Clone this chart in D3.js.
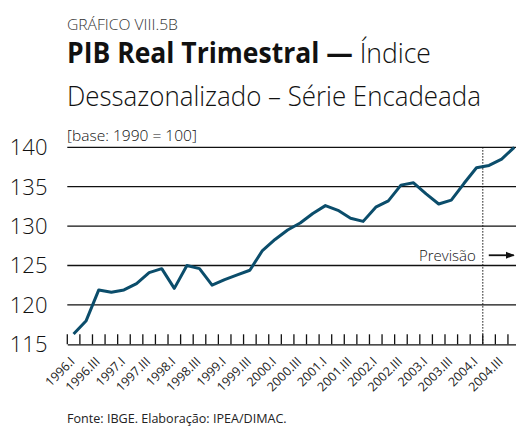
<!DOCTYPE html>
<html>
<head>
<meta charset="utf-8">
<script src="https://cdn.jsdelivr.net/npm/d3@7"></script>
<style>
  body { margin: 0; background: #fff; }
  svg { display: block; font-family: "Open Sans", "Noto Sans", sans-serif; }
  .grid line { stroke: #111; stroke-width: 1.3; }
  .title-txt { fill: #111; }
</style>
</head>
<body>
<svg id="chart"></svg>
<script>
//Data
const years = ["1996", "1997", "1998", "1999", "2000", "2001", "2002", "2003", "2004"]
const quarterNames = ["I", "II", "III", "IV"]
const quarters = years.flatMap(y => quarterNames.map(q => `${y}.${q}`))
const pib = [116.3, 118.0, 121.9, 121.6, 121.9, 122.7, 124.1, 124.6,
  122.1, 125.0, 124.6, 122.5, 123.2, 123.8, 124.4, 126.9,
  128.3, 129.5, 130.4, 131.6, 132.6, 132.0, 131.0, 130.6,
  132.4, 133.2, 135.2, 135.5, 134.1, 132.8, 133.3, 135.4,
  137.4, 137.7, 138.5, 140.0]
const yTicks = [115, 120, 125, 130, 135, 140]
const xTickLabels = quarters.filter(q => q.endsWith(".I") || q.endsWith(".III"))
const forecastStart = "2004.II"
const forecastLabelValue = 126.3

const width = 516
const height = 428
const lineColor = "#0b4d6b"
const textColor = "#111"

const svg = d3.select("#chart")
  .attr("width", width)
  .attr("height", height)

//Scales
const x = d3.scaleBand()
  .domain(quarters)
  .range([67.3, 67.3 + 36 * 12.59])

const y = d3.scaleLinear()
  .domain([115, 140])
  .range([344.3, 147.3])

//Squeeze a text to a given width (the original font is narrower)
function fitWidth(sel, target) {
  const w = sel.node().getComputedTextLength()
  const x0 = +sel.attr("x")
  sel.attr("transform", `translate(${x0},0) scale(${target / w},1) translate(${-x0},0)`)
}

//Titles
const gTitle = svg.append("g").attr("class", "title-txt")

gTitle.append("text")
  .attr("x", 67).attr("y", 30)
  .attr("font-size", 14.5)
  .attr("font-weight", 300)
  .attr("fill", "#333")
  .text("GRÁFICO VIII.5B")
  .call(s => fitWidth(s, 111))

const title1 = gTitle.append("text")
  .attr("x", 67).attr("y", 63.5)
  .attr("font-size", 28)
title1.append("tspan").attr("font-weight", 700).text("PIB Real Trimestral —")
title1.append("tspan").attr("font-weight", 300).text(" Índice")
fitWidth(title1, 364)

gTitle.append("text")
  .attr("x", 67).attr("y", 106.5)
  .attr("font-size", 28)
  .attr("font-weight", 300)
  .text("Dessazonalizado – Série Encadeada")
  .call(s => fitWidth(s, 414))

gTitle.append("text")
  .attr("x", 67).attr("y", 141)
  .attr("font-size", 14)
  .attr("font-weight", 300)
  .text("[base: 1990 = 100]")
  .call(s => fitWidth(s, 130))

//Grid lines
svg.append("g")
  .attr("class", "grid")
  .selectAll("line")
  .data(yTicks.slice(1))
  .join("line")
  .attr("x1", x.range()[0])
  .attr("x2", x.range()[1])
  .attr("y1", d => y(d))
  .attr("y2", d => y(d))

//Y labels
svg.append("g")
  .selectAll("text")
  .data(yTicks)
  .join("text")
  .attr("x", 47.5)
  .attr("y", d => y(d))
  .attr("dy", "0.36em")
  .attr("text-anchor", "end")
  .attr("font-size", 22)
  .attr("font-weight", 300)
  .attr("fill", textColor)
  .text(d => d)

//Bottom axis with inward ticks at band limits
const axisG = svg.append("g")
  .attr("transform", `translate(0,${y(115)})`)
  .call(d3.axisBottom(x).tickSize(0).tickFormat(""))
axisG.select(".domain").attr("stroke", "#111").attr("stroke-width", 1.3)

axisG.selectAll(".band-tick")
  .data(quarters.concat(["end"]))
  .join("line")
  .attr("class", "band-tick")
  .attr("x1", (d, i) => x.range()[0] + i * x.step())
  .attr("x2", (d, i) => x.range()[0] + i * x.step())
  .attr("y1", 0)
  .attr("y2", -10)
  .attr("stroke", "#111")
  .attr("stroke-width", 1.3)

//X labels
svg.append("g")
  .selectAll("text")
  .data(xTickLabels)
  .join("text")
  .attr("transform", d => `translate(${x(d) + x.bandwidth() / 2 + 2},${y(115) + 18}) rotate(-45)`)
  .attr("text-anchor", "end")
  .attr("font-size", 12.5)
  .attr("font-weight", 400)
  .attr("fill", "#222")
  .text(d => d)

//Forecast line
const xf = x(forecastStart)
svg.append("line")
  .attr("x1", xf).attr("x2", xf)
  .attr("y1", y(140)).attr("y2", y(115))
  .attr("stroke", "#111")
  .attr("stroke-width", 1.2)
  .attr("stroke-dasharray", "1.2,1.8")

svg.append("text")
  .attr("x", xf - 7)
  .attr("y", y(forecastLabelValue))
  .attr("dy", "0.36em")
  .attr("text-anchor", "end")
  .attr("font-size", 15)
  .attr("font-weight", 300)
  .attr("fill", textColor)
  .text("Previsão")

svg.append("defs").append("marker")
  .attr("id", "arrow")
  .attr("viewBox", "0 0 10 10")
  .attr("refX", 9).attr("refY", 5)
  .attr("markerWidth", 5).attr("markerHeight", 5)
  .attr("orient", "auto")
  .append("path")
  .attr("d", "M0,1 L10,5 L0,9 Z")
  .attr("fill", "#111")

svg.append("line")
  .attr("x1", xf + 6).attr("x2", xf + 31)
  .attr("y1", y(forecastLabelValue)).attr("y2", y(forecastLabelValue))
  .attr("stroke", "#111")
  .attr("stroke-width", 1.8)
  .attr("marker-end", "url(#arrow)")

//Series line
const line = d3.line()
  .x((d, i) => x(quarters[i]) + x.bandwidth() / 2)
  .y(d => y(d))

svg.append("path")
  .datum(pib)
  .attr("d", line)
  .attr("fill", "none")
  .attr("stroke", lineColor)
  .attr("stroke-width", 3)
  .attr("stroke-linejoin", "round")

//Source
svg.append("text")
  .attr("x", 67).attr("y", 423)
  .attr("font-size", 13)
  .attr("font-weight", 400)
  .attr("fill", "#222")
  .text("Fonte: IBGE. Elaboração: IPEA/DIMAC.")
  .call(s => fitWidth(s, 220))
</script>
</body>
</html>
